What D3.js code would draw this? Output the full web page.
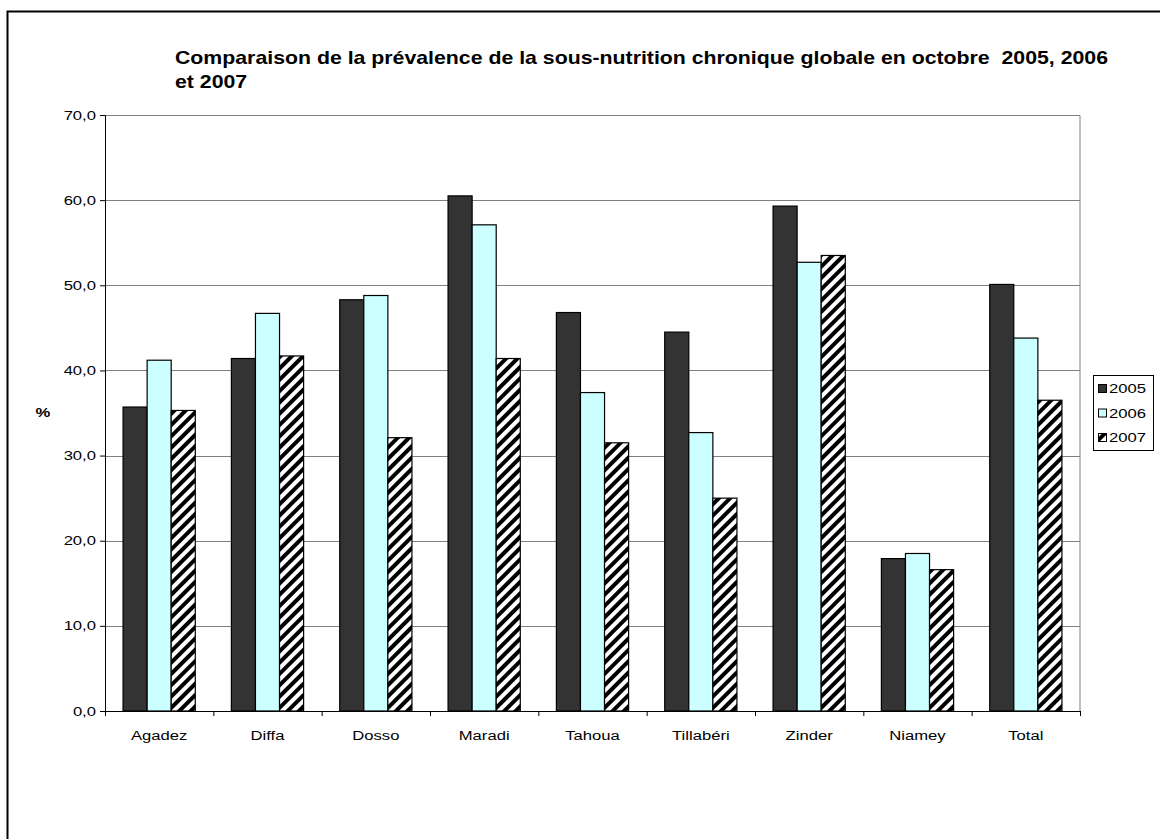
<!DOCTYPE html>
<html>
<head>
<meta charset="utf-8">
<script src="https://cdn.jsdelivr.net/npm/d3@7"></script>
<style>
  body { margin: 0; background: #fff; }
  text { font-family: Arial, "Liberation Sans", sans-serif; fill: #000; }
</style>
</head>
<body>
<div class="chart"></div>
<script>
var regions = ["Agadez", "Diffa", "Dosso", "Maradi", "Tahoua", "Tillabéri", "Zinder", "Niamey", "Total"];
var years = ["2005", "2006", "2007"];
var values2005 = [35.7, 41.4, 48.3, 60.5, 46.8, 44.5, 59.3, 17.9, 50.1];
var values2006 = [41.2, 46.7, 48.8, 57.1, 37.4, 32.7, 52.7, 18.5, 43.8];
var values2007 = [35.3, 41.7, 32.1, 41.4, 31.5, 25.0, 53.5, 16.6, 36.5];
var yTicks = [0, 10, 20, 30, 40, 50, 60, 70];
var titleLines = ["Comparaison de la prévalence de la sous-nutrition chronique globale en octobre  2005, 2006", "et 2007"];

var svgWidth = 1160;
var svgHeight = 839;
var margin = { top: 115, right: 80, bottom: 128, left: 105 };
var width = svgWidth - margin.left - margin.right;
var height = svgHeight - margin.top - margin.bottom;
var stretchX = 1.33;

var svg = d3.select(".chart")
  .append("svg")
  .attr("width", svgWidth)
  .attr("height", svgHeight);

var defs = svg.append("defs");
var hatch = defs.append("pattern")
  .attr("id", "hatch")
  .attr("patternUnits", "userSpaceOnUse")
  .attr("width", 8)
  .attr("height", 8)
  .attr("patternTransform", "rotate(45)");
hatch.append("rect").attr("width", 8).attr("height", 8).attr("fill", "#fff");
hatch.append("rect").attr("width", 4).attr("height", 8).attr("fill", "#000");

var fills = { "2005": "#333333", "2006": "#ccffff", "2007": "url(#hatch)" };

// outer frame
svg.append("rect")
  .attr("x", 7.5).attr("y", 11.5)
  .attr("width", 1200).attr("height", 900)
  .attr("fill", "none").attr("stroke", "#000").attr("stroke-width", 2);

function stretch(sel, k) {
  sel.each(function() {
    var w = this.getComputedTextLength();
    d3.select(this).attr("textLength", w * k).attr("lengthAdjust", "spacingAndGlyphs");
  });
}

// title
var title = svg.append("g").attr("transform", "translate(175, 0)");
var tl = title.selectAll("text")
  .data(titleLines)
  .enter()
  .append("text")
  .attr("x", 0)
  .attr("y", (d, i) => 64 + i * 24)
  .attr("font-size", "19px")
  .attr("font-weight", "bold")
  .style("white-space", "pre")
  .text(d => d);
var k0 = 933 / tl.node().getComputedTextLength();
stretch(tl, k0);

var chartGroup = svg.append("g")
  .attr("transform", `translate(${margin.left}, ${margin.top})`);

var x0 = d3.scaleBand().domain(regions).range([0, width]);
var x1 = d3.scaleBand().domain(years).range([0, x0.bandwidth()]).paddingOuter(0.75);
var y = d3.scaleLinear().domain([0, 70]).range([height, 0]);

// plot area border (top / right)
chartGroup.append("path")
  .attr("d", `M0,0.5H${width}V${height}`)
  .attr("fill", "none").attr("stroke", "#808080");

// grid
chartGroup.selectAll(".grid")
  .data(yTicks.filter(t => t > 0))
  .enter()
  .append("line")
  .attr("x1", 0).attr("x2", width)
  .attr("y1", d => Math.round(y(d)) + 0.5)
  .attr("y2", d => Math.round(y(d)) + 0.5)
  .attr("stroke", "#808080");

// bars
var seriesData = { "2005": values2005, "2006": values2006, "2007": values2007 };
var groups = chartGroup.selectAll(".region")
  .data(regions)
  .enter()
  .append("g")
  .attr("transform", d => `translate(${x0(d)}, 0)`);

groups.selectAll("rect")
  .data((d, i) => years.map(yr => ({ year: yr, value: seriesData[yr][i] })))
  .enter()
  .append("rect")
  .attr("x", d => x1(d.year))
  .attr("y", d => y(d.value))
  .attr("width", x1.bandwidth())
  .attr("height", d => height - y(d.value))
  .attr("fill", d => fills[d.year])
  .attr("stroke", "#000")
  .attr("stroke-width", 1.2);

// axes
var fmt = d => d3.format(".1f")(d).replace(".", ",");
var leftAxis = d3.axisLeft(y).tickValues(yTicks).tickFormat(fmt).tickSize(5).tickPadding(4);
var bottomAxis = d3.axisBottom(x0).tickSize(0).tickPadding(20);

var yAxisG = chartGroup.append("g").call(leftAxis);
var xAxisG = chartGroup.append("g").attr("transform", `translate(0, ${height})`).call(bottomAxis);

[yAxisG, xAxisG].forEach(function(g) {
  g.attr("font-family", null).attr("font-size", null);
  g.selectAll("text").attr("font-size", "12.5px").attr("fill", "#000");
  g.selectAll("path, line").attr("stroke", "#000");
  stretch(g.selectAll("text"), stretchX);
});

// x tick marks at band edges
xAxisG.selectAll(".sep")
  .data(regions.concat(["end"]))
  .enter()
  .append("line")
  .attr("x1", (d, i) => i * x0.step() + 0.5)
  .attr("x2", (d, i) => i * x0.step() + 0.5)
  .attr("y1", 0).attr("y2", 5)
  .attr("stroke", "#000");

// y label
var yl = svg.append("text")
  .attr("x", 43).attr("y", 417)
  .attr("text-anchor", "middle")
  .attr("font-size", "12.5px")
  .attr("font-weight", "bold")
  .text("%");
stretch(yl, stretchX);

// legend
var legend = svg.append("g").attr("transform", "translate(1093, 375)");
legend.append("rect")
  .attr("x", 0.5).attr("y", 0.5)
  .attr("width", 60).attr("height", 75)
  .attr("fill", "#fff").attr("stroke", "#000");
var items = legend.selectAll(".item")
  .data(years)
  .enter()
  .append("g")
  .attr("transform", (d, i) => `translate(5, ${13.5 + i * 24.5})`);
items.append("rect")
  .attr("x", 0.5).attr("y", -4)
  .attr("width", 8).attr("height", 8)
  .attr("fill", d => fills[d])
  .attr("stroke", "#000");
var lt = items.append("text")
  .attr("x", 11).attr("y", 4.5)
  .attr("font-size", "12.5px")
  .text(d => d);
stretch(lt, stretchX);
</script>
</body>
</html>
